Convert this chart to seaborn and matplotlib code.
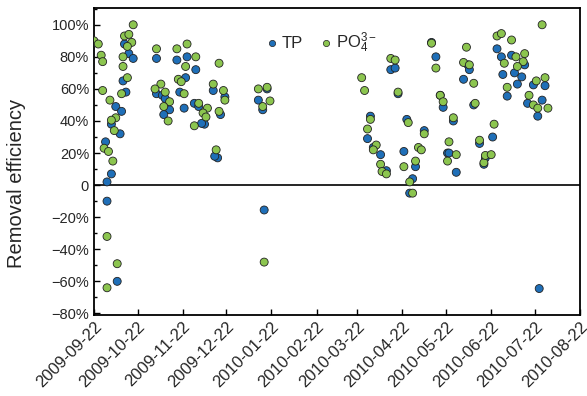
import numpy as np
import pandas as pd
import matplotlib
matplotlib.use("Agg")
import matplotlib.pyplot as plt
import matplotlib.dates as mdates
from matplotlib.ticker import FuncFormatter, MultipleLocator
from matplotlib.lines import Line2D
import seaborn as sns

# ---------------- data ----------------
tp_dates = [
    "2009-09-22", "2009-10-13", "2009-10-16", "2009-10-19", "2009-10-12", "2009-10-14",
    "2009-10-07", "2009-10-11", "2009-10-04", "2009-10-10", "2009-09-30", "2009-10-04",
    "2009-10-01", "2009-10-01", "2009-10-08",
    "2009-11-04", "2009-11-18", "2009-11-25", "2009-12-01", "2009-11-24", "2009-11-20",
    "2009-11-04", "2009-11-08", "2009-12-13", "2009-12-21", "2009-11-10", "2009-11-13",
    "2009-11-23", "2009-11-30", "2009-11-09", "2009-12-03", "2009-12-18", "2009-12-07",
    "2009-12-05", "2009-12-16", "2009-12-14",
    "2010-01-19", "2010-01-13", "2010-01-16", "2010-01-17",
    "2010-03-31", "2010-03-29", "2010-04-02", "2010-04-07", "2010-04-11", "2010-04-14",
    "2010-04-17", "2010-04-19", "2010-04-23", "2010-04-25", "2010-05-01", "2010-04-29",
    "2010-04-27", "2010-05-07",
    "2010-05-12", "2010-05-15", "2010-05-18", "2010-05-20", "2010-05-27", "2010-05-23",
    "2010-05-24", "2010-05-29", "2010-06-03", "2010-06-06", "2010-06-07", "2010-06-10",
    "2010-06-23", "2010-06-14", "2010-06-18", "2010-06-17",
    "2010-06-26", "2010-06-29", "2010-07-06", "2010-07-15", "2010-07-08", "2010-06-30",
    "2010-07-13", "2010-07-10", "2010-07-21", "2010-07-29", "2010-07-03", "2010-07-17",
    "2010-07-27", "2010-07-24", "2010-07-25",
]
tp_values = [
    0.89, 0.88, 0.82, 0.79, 0.65, 0.58,
    0.49, 0.46, 0.38, 0.32, 0.27, 0.07,
    0.02, -0.10, -0.60,
    0.79, 0.78, 0.80, 0.72, 0.67, 0.58,
    0.57, 0.56, 0.59, 0.55, 0.54, 0.47,
    0.48, 0.51, 0.44, 0.49, 0.44, 0.38,
    0.385, 0.17, 0.18,
    0.60, 0.53, 0.47, -0.155,
    0.43, 0.29, 0.235, 0.19, 0.09, 0.72,
    0.73, 0.57, 0.21, 0.41, 0.115, 0.04,
    -0.05, 0.34,
    0.89, 0.80, 0.56, 0.485, 0.40, 0.20,
    0.20, 0.08, 0.66, 0.75, 0.72, 0.50,
    0.30, 0.26, 0.17, 0.13,
    0.85, 0.80, 0.81, 0.75, 0.70, 0.69,
    0.675, 0.63, 0.625, 0.62, 0.555, 0.51,
    0.53, 0.43, -0.645,
]

po4_dates = [
    "2009-09-22", "2009-09-25", "2009-09-27", "2009-09-28", "2009-09-28", "2009-10-03",
    "2009-10-07", "2009-10-04", "2009-10-06", "2009-09-29", "2009-10-02", "2009-10-05",
    "2009-10-01", "2009-10-08", "2009-10-01", "2009-10-19", "2009-10-13", "2009-10-16",
    "2009-10-18", "2009-10-15", "2009-10-12", "2009-10-12", "2009-10-15", "2009-10-11",
    "2009-11-04", "2009-11-18", "2009-11-25", "2009-12-01", "2009-11-24", "2009-12-17",
    "2009-11-19", "2009-11-21", "2009-11-07", "2009-11-03", "2009-11-10", "2009-11-23",
    "2009-12-13", "2009-12-20", "2009-12-21", "2009-11-13", "2009-11-09", "2009-12-03",
    "2009-12-09", "2009-12-17", "2009-12-06", "2009-12-08", "2009-11-12", "2009-11-30",
    "2009-12-15",
    "2010-01-13", "2010-01-19", "2010-01-21", "2010-01-16", "2010-01-17",
    "2010-03-25", "2010-03-27", "2010-03-31", "2010-03-29", "2010-04-04", "2010-04-02",
    "2010-04-07", "2010-04-08", "2010-04-11", "2010-04-14", "2010-04-17", "2010-04-19",
    "2010-04-23", "2010-04-26", "2010-05-01", "2010-04-27", "2010-04-29", "2010-05-03",
    "2010-05-05", "2010-05-07",
    "2010-05-12", "2010-05-15", "2010-05-18", "2010-05-20", "2010-05-27", "2010-05-24",
    "2010-05-29", "2010-05-23", "2010-06-05", "2010-06-03", "2010-06-07", "2010-06-10",
    "2010-06-11", "2010-06-14", "2010-06-17", "2010-06-18", "2010-06-22", "2010-06-24",
    "2010-07-27", "2010-06-26", "2010-06-29", "2010-07-06", "2010-07-01", "2010-07-09",
    "2010-07-15", "2010-07-14", "2010-07-10", "2010-07-23", "2010-07-29", "2010-07-03",
    "2010-07-18", "2010-07-21", "2010-07-24", "2010-07-31",
]
po4_values = [
    0.90, 0.88, 0.81, 0.77, 0.59, 0.53,
    0.42, 0.405, 0.34, 0.23, 0.21, 0.15,
    -0.32, -0.49, -0.64, 1.00, 0.93, 0.94,
    0.89, 0.865, 0.80, 0.74, 0.67, 0.57,
    0.85, 0.85, 0.88, 0.80, 0.74, 0.76,
    0.66, 0.645, 0.63, 0.60, 0.58, 0.57,
    0.63, 0.59, 0.53, 0.52, 0.49, 0.51,
    0.48, 0.46, 0.45, 0.425, 0.40, 0.37,
    0.22,
    0.60, 0.61, 0.525, 0.49, -0.48,
    0.67, 0.59, 0.41, 0.35, 0.25, 0.22,
    0.13, 0.085, 0.07, 0.79, 0.78, 0.58,
    0.115, 0.39, 0.15, 0.02, -0.05, 0.235,
    0.22, 0.32,
    0.885, 0.73, 0.56, 0.52, 0.42, 0.27,
    0.19, 0.15, 0.86, 0.765, 0.75, 0.635,
    0.51, 0.28, 0.14, 0.185, 0.19, 0.38,
    1.00, 0.93, 0.945, 0.905, 0.76, 0.80,
    0.82, 0.77, 0.74, 0.65, 0.67, 0.61,
    0.56, 0.50, 0.48, 0.48,
]

series_names = ["TP", "PO$_4^{3-}$"]
series_colors = ["#1f6fb8", "#8cc54f"]
tick_dates = pd.date_range("2009-09-22", "2010-08-22", freq=pd.DateOffset(months=1))

# ---------------- build table ----------------
df = pd.concat([
    pd.DataFrame({"date": pd.to_datetime(tp_dates), "eff": tp_values, "series": series_names[0]}),
    pd.DataFrame({"date": pd.to_datetime(po4_dates), "eff": po4_values, "series": series_names[1]}),
], ignore_index=True)

# ---------------- style ----------------
sns.set_style("ticks")
plt.rcParams["font.family"] = ["Liberation Sans", "DejaVu Sans"]
plt.rcParams["mathtext.fontset"] = "custom"
plt.rcParams["mathtext.rm"] = "Liberation Sans"
plt.rcParams["mathtext.it"] = "Liberation Sans"

fig = plt.figure(figsize=(5.87, 3.96), dpi=100)
ax = fig.add_axes([0.160, 0.2045, 0.828, 0.7755])

sns.scatterplot(data=df, x="date", y="eff", hue="series",
                palette=dict(zip(series_names, series_colors)),
                s=33, edgecolor="#222222", linewidth=0.6, legend=False, ax=ax, zorder=3)

ax.axhline(0, color="black", lw=1.2, zorder=2)

ax.set_xlim(pd.Timestamp("2009-09-22"), pd.Timestamp("2010-08-22"))
ax.set_ylim(-0.81, 1.105)
ax.set_xticks(tick_dates)
ax.xaxis.set_major_formatter(mdates.DateFormatter("%Y-%m-%d"))

ax.yaxis.set_major_locator(MultipleLocator(0.2))
ax.yaxis.set_minor_locator(MultipleLocator(0.1))

def pct(v, pos):
    k = int(round(v * 100))
    if k == 0:
        return "0"
    return ("\u2212" if k < 0 else "") + f"{abs(k)}%"

ax.yaxis.set_major_formatter(FuncFormatter(pct))
ax.tick_params(axis="both", which="both", direction="in", color="black")
ax.tick_params(axis="y", labelsize=10.5)
ax.tick_params(axis="x", labelsize=12, pad=3)
ax.tick_params(axis="both", which="major", length=4, width=1)
ax.tick_params(axis="y", which="minor", length=2.5, width=1)
plt.setp(ax.get_xticklabels(), rotation=45, ha="right", rotation_mode="anchor")
ax.set_xlabel("")
ax.set_ylabel("Removal efficiency", fontsize=14.5)
ax.yaxis.set_label_coords(-0.14, 0.43)
for sp in ax.spines.values():
    sp.set_visible(True)
    sp.set_linewidth(1.3)
    sp.set_color("black")

handles = [Line2D([], [], marker="o", linestyle="", markersize=4.5,
                  markerfacecolor=c, markeredgecolor="#222222", markeredgewidth=0.5)
           for c in series_colors]
ax.legend(handles, series_names, loc="center left", bbox_to_anchor=(0.335, 0.885),
          ncol=2, frameon=False, fontsize=12, handletextpad=0.1, columnspacing=0.9,
          handlelength=1.0, borderaxespad=0)

fig.savefig("out.png", dpi=100)
